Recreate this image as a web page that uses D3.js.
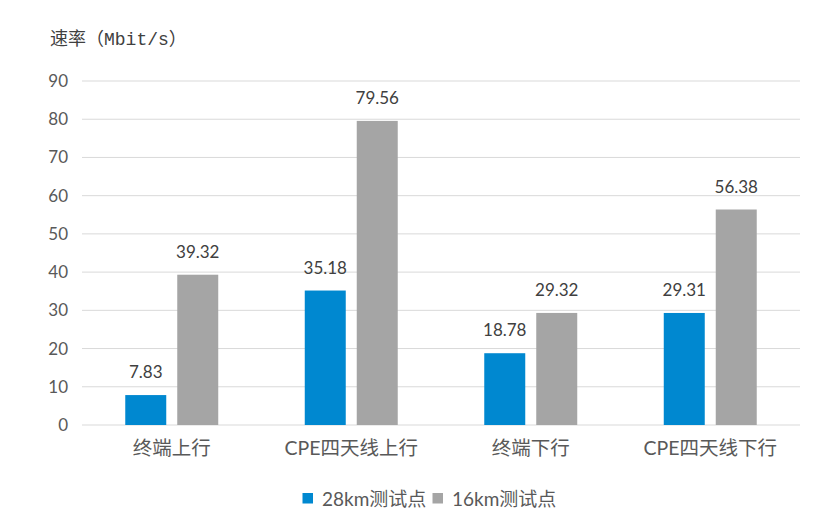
<!DOCTYPE html>
<html><head><meta charset="utf-8">
<script src="https://cdn.jsdelivr.net/npm/d3@7"></script>
<style>body{margin:0;background:#fff}</style>
</head><body>
<svg id="c" width="830" height="528"></svg>
<script>
const categories = ["终端上行", "CPE四天线上行", "终端下行", "CPE四天线下行"];
const seriesNames = ["28km测试点", "16km测试点"];
const s28 = [7.83, 35.18, 18.78, 29.31];
const s16 = [39.32, 79.56, 29.32, 56.38];
const yTicks = [0, 10, 20, 30, 40, 50, 60, 70, 80, 90];
const colors = ["#0088D0", "#A5A5A5"];

(function () {
const svg = d3.select("#c");
const font = "Lato, 'Noto Sans CJK SC', sans-serif";
const mLeft = 82, mRight = 800, mTop = 81, mBottom = 425;
const x = d3.scaleBand().domain(categories).range([mLeft, mRight]);
const y = d3.scaleLinear().domain([0, 90]).range([mBottom, mTop]);
const xs = d3.scaleBand().domain([0, 1]).range([0, x.bandwidth()]).paddingInner(0.2115).paddingOuter(0.832);

// gridlines
svg.append("g").selectAll("line").data(yTicks).join("line")
  .attr("x1", mLeft).attr("x2", mRight)
  .attr("y1", d => y(d)).attr("y2", d => y(d))
  .attr("stroke", "#D9D9D9").attr("stroke-width", 1);

// y axis labels
const yAxis = svg.append("g").attr("transform", `translate(${mLeft - 14},0)`)
  .call(d3.axisLeft(y).tickValues(yTicks).tickSize(0).tickPadding(0));
yAxis.select(".domain").remove();
yAxis.selectAll("text").attr("font-family", font).attr("font-size", 17).attr("fill", "#595959");

// x axis labels
const xAxis = svg.append("g").attr("transform", `translate(0,${mBottom})`)
  .call(d3.axisBottom(x).tickSize(0).tickPadding(16));
xAxis.select(".domain").remove();
xAxis.selectAll("text").attr("font-family", font).attr("font-size", 19.5).attr("fill", "#595959");

// bars
const series = [s28, s16];
series.forEach((vals, si) => {
  const g = svg.append("g");
  g.selectAll("rect").data(vals).join("rect")
    .attr("x", (d, i) => x(categories[i]) + xs(si))
    .attr("width", xs.bandwidth())
    .attr("y", d => y(d))
    .attr("height", d => y(0) - y(d))
    .attr("fill", colors[si]);
  g.selectAll("text").data(vals).join("text")
    .attr("x", (d, i) => x(categories[i]) + xs(si) + xs.bandwidth() / 2)
    .attr("y", d => y(d) - 17)
    .attr("text-anchor", "middle")
    .attr("font-family", font).attr("font-size", 17).attr("fill", "#404040")
    .text(d => d.toFixed(2));
});

// title
svg.append("text").attr("x", 50).attr("y", 45)
  .attr("font-family", "'Liberation Mono', 'Noto Sans CJK SC', monospace").attr("font-size", 18).attr("fill", "#404040")
  .text("速率（Mbit/s）");

// legend
const legX = [302.5, 432.5];
seriesNames.forEach((n, i) => {
  svg.append("rect").attr("x", legX[i]).attr("y", 493).attr("width", 10.5).attr("height", 10.5).attr("fill", colors[i]);
  svg.append("text").attr("x", legX[i] + 19.5).attr("y", 506)
    .attr("font-family", font).attr("font-size", 19).attr("fill", "#595959").text(n);
});
})();
</script>
</body></html>
